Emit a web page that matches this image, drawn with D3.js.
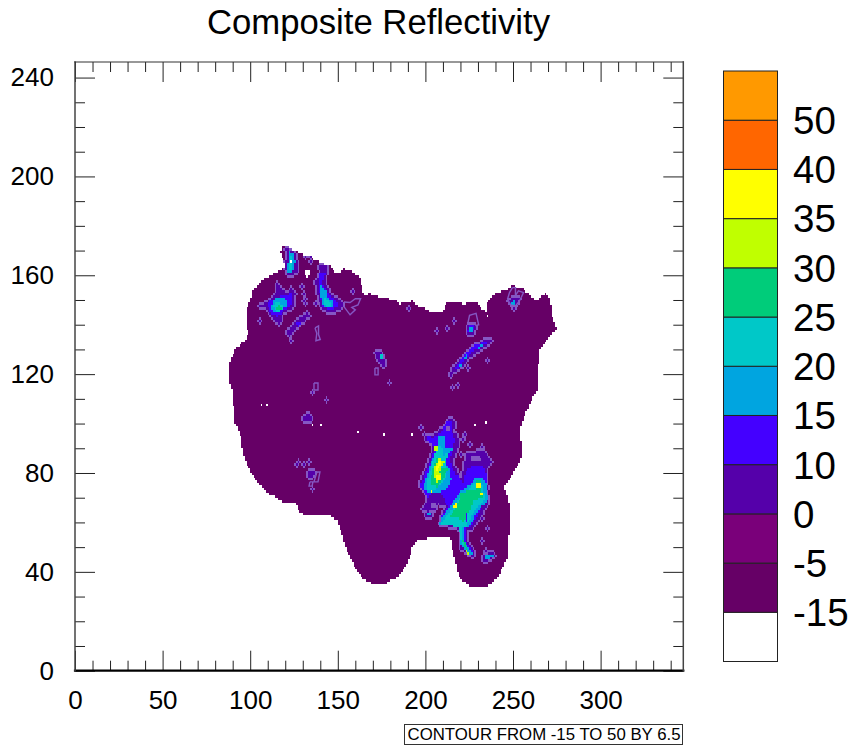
<!DOCTYPE html>
<html>
<head>
<meta charset="utf-8">
<script src="https://cdn.jsdelivr.net/npm/d3@7"></script>
<style>
  html, body { margin: 0; padding: 0; background: #fff; }
  svg { display: block; }
  text { font-family: "Liberation Sans", sans-serif; fill: #000; }
</style>
</head>
<body>
<svg id="chart" width="852" height="746"></svg>
<script>
// legend, bottom to top
const legendColors = ["#ffffff", "#660066", "#7a007a", "#5500aa", "#4400ff", "#00a5e0",
                      "#00c8c8", "#00cc7a", "#c0ff00", "#ffff00", "#ff6600", "#ff9900"];
const legendLabels = ["-15", "-5", "0", "10", "15", "20", "25", "30", "35", "40", "50"];

const xMajor = [0, 50, 100, 150, 200, 250, 300];
const yMajor = [0, 40, 80, 120, 160, 200, 240];

// echo area outline, in grid units
const outline = [[118.7,172.7],[121.6,171.5],[128.4,169],[134.1,167.4],[139.8,165],[145.5,163.8],[148.4,161.4],[152.4,161.4],[153.5,162.6],[158.7,161.4],[162.7,158.9],[165,152],[168.4,152.8],[174.1,151.2],[182.6,150],[185.5,148.4],[192.4,149.6],[195.2,148],[198.1,146.4],[199.2,146.8],[202.6,145.2],[209.5,144.8],[212.3,149.2],[216.9,149.2],[221.5,148.4],[229.5,148.8],[234.6,144.8],[235.7,150],[241.4,153.2],[246.6,154.5],[250,155.7],[255.1,154.9],[258,152.8],[263.7,149.6],[268.3,152.8],[271.1,150],[272.8,141.9],[275.1,137.9],[271.1,135.9],[265.4,129.8],[264.3,122.9],[263.7,113.6],[259.1,107.5],[254,98.2],[255.1,86.5],[251.1,81.2],[244.9,74.3],[247.1,70.3],[248.3,63.8],[248.3,55.7],[246.6,54.9],[247.1,51.7],[247.1,46],[242.6,39.5],[239.7,36.7],[235.7,34.3],[225.5,33.9],[219.7,37.5],[217.9,42],[215.8,47.6],[214,54.5],[210,54.1],[202.6,53.7],[195.2,52.9],[192.4,50],[190.1,43.6],[185.5,38.7],[181,36.7],[176.9,35.1],[171.2,34.7],[163.8,37.5],[158.1,44],[154.1,50.9],[150.1,60.2],[145.5,62.6],[138.1,63],[131.3,63],[127.3,65],[125.6,68.3],[119.9,67.9],[110.2,71.9],[104.5,76],[98.7,82.4],[95.9,88.1],[94.2,96.2],[91.3,100.2],[89.6,113.6],[88.5,116.4],[88.5,124.9],[91.3,129.8],[98.2,134.6],[99.3,137.9],[98.2,138.7],[98.2,146],[101.6,154.1],[107.3,158.1],[115.3,161.4],[119.9,163.4],[118.7,167.1],[117,169.4]];

// missing cells inside the outline
const holes = [[131.5,161.5],[132.5,161.5],[133.5,161.5],[131.5,160.5],[132.5,160.5],[133.5,160.5],[132.5,159.5],[106.2,107.9],[109,107.1],[135.3,99.8],[140.4,99],[161,96.2],[176.4,95],[192.9,95],[228.9,99],[234,100.2],[235.2,143.1],[123.9,165.8]];

const band0 = [
  [[120.4,171.1],[125.6,169.4],[126.7,165.4],[126.7,161.4],[121.6,159.3],[119.9,163.4],[121,167.4]],
  [[103.9,147.2],[109.6,149.2],[114.2,152],[115.3,157.3],[118.2,154.1],[121.6,152.9],[123.9,155.3],[125.6,152.9],[125,146.8],[118.7,144.8],[117,139.9],[114.2,141.1],[110.2,144.8],[108.4,146.8]],
  [[138.7,163.4],[143.8,164.2],[144.4,161.4],[142.7,158.9],[143.8,155.3],[146.7,152],[153,149.2],[152.4,146.8],[148.4,145.2],[144.4,145.2],[141,146],[138.7,151.2],[137,157.3],[139.8,160.9]],
  [[120.4,136.7],[125.6,141.1],[133,144.8],[133.6,143.5],[129.6,140.7],[125.6,137.9],[122.1,135]],
  [[247.1,149.6],[250,151.2],[254,150.4],[252.3,147.6],[248.3,148]],
  [[224,139.9],[229,139.9],[228,136],[224,136.5]],
  [[214,119.7],[215.2,122.5],[219.7,125.7],[226.6,130.6],[234,133.8],[235.2,134.6],[238.6,133],[232.9,130.6],[225.5,127],[220.9,122.9],[215.8,120.5],[214.6,118.9]],
  [[171.2,128.6],[175.2,128.6],[176.9,124.9],[176.4,122.5],[174.1,124.5],[172.4,126.5]],
  [[129.6,102.7],[133,104],[135.3,102.7],[135.3,101],[129.6,101]],
  [[133,80.4],[135.3,81.6],[137.6,80],[135.3,78],[133,78.4]],
  [[233,46.5],[238,48],[240.5,47],[236,44.5],[233,44.5]],
  [[200.5,64.5],[204.5,64.5],[204,62],[200.5,62]],
  // main storm
  [[213.9,102.7],[216.7,101.3],[216.4,96.6],[219.6,93.2],[217.7,88.5],[215.8,84.5],[218.6,79.7],[220.5,72.3],[220.5,77.7],[223.4,87.8],[229.1,88.5],[232.9,89.2],[237.7,84.5],[234.8,81.8],[235.8,72.3],[232.9,75.2],[236.7,69.1],[232.9,63.7],[227.2,57.6],[224.3,56.9],[224.3,52.2],[229.1,46.8],[226.2,46.1],[220.5,49.5],[219.6,56.3],[217.7,58.3],[208.2,58.7],[209.1,63],[212,66.4],[207.2,67.7],[205.3,65],[201.5,64.4],[197.7,65],[200.6,68.4],[201.5,71.8],[196.8,74.5],[197.7,77.7],[200.6,82.4],[203.4,87.2],[204.4,91.2],[200.6,93.2],[198.7,95.9],[203.4,94.6],[209.1,98],[212,100.7]]
];
const band10 = [
  [[109.6,148.8],[115.3,151.2],[119.9,152],[123.9,153.2],[124.4,148],[119.9,146],[115.9,143.1],[111.3,144.8]],
  [[139.3,161.4],[142.7,160.9],[141,157.3],[141.6,155.3],[144.4,152.9],[148.4,150],[150.7,148],[147.3,146],[141.6,146.8],[139.8,152],[138.7,156.9]],
  [[125.6,140.7],[129.6,141.5],[127.3,139.1]],
  [[225.5,139.9],[228.3,139.9],[227.2,136.7],[224.3,137.1]],
  [[217,123],[222,127.5],[228,131.5],[234,133.2],[235,132.5],[228,129.5],[222,125.5],[218,122]],
  [[212,100.7],[214.8,100.9],[215.4,96.6],[217.1,93.2],[214.8,88.5],[213.9,84.5],[217.7,79.1],[221.5,76.4],[224.3,82.4],[232.9,83.1],[234.8,79.1],[234.8,72.3],[234.8,70.4],[230,63],[226.2,58.3],[223,57.6],[223.4,52.2],[227.8,47.5],[224.3,48.2],[220.5,51.5],[219.6,56.9],[216.7,58.7],[208.7,59],[209.5,63],[212.9,66.4],[209.1,71.8],[205.3,72.5],[201.5,70.4],[196.8,74.4],[198.7,77.7],[201.5,82.4],[204.4,87.2],[205.3,90.5],[201.5,93.2],[200.6,95.3],[204.4,93.9],[209.1,96.6]]
];
const band15 = [
  [[121.6,170.3],[125,168.6],[125.6,165],[123.9,160.9],[121,161.4],[121.6,165.4],[121.6,168.2]],
  [[114.2,151.2],[119.9,150.8],[121.6,148],[118.7,146],[115.3,144.8],[111.3,146],[113,148.8]],
  [[139.8,158.1],[141,154.9],[143.8,154.1],[144.4,151.2],[147.3,149.2],[147.3,147.2],[142.7,146.8],[141,149.2],[139.8,152.9]],
  [[225.5,139.1],[227.2,139.1],[226.6,136.7],[224.9,137.5]],
  [[229.5,131],[232.9,132.2],[233.5,131],[230,130.2]],
  [[221.5,127],[223.7,127.8],[223.7,126.1],[222,126.1]],
  [[219.2,124.1],[220.9,123.7],[219.7,122.9]],
  [[249,149.4],[251.5,149.6],[251,148.2],[249.3,148.4]],
  [[234,46.5],[238,47.5],[239.5,46.8],[236,45],[234,45]],
  [[201.5,63.8],[203.5,63.8],[203.5,63],[201.5,63]],
  [[207.2,94.6],[210.6,95.3],[211,90.5],[215.8,89.6],[212.9,87.2],[212,83.8],[213.9,81.1],[214.8,77],[212,73.7],[209.1,72.5],[206.3,71.8],[202.5,71.8],[198.1,73.7],[200.6,78.4],[203.4,84.5],[206.3,89.2]],
  [[228.2,77.7],[232,78.4],[234.8,75.7],[235.8,69.1],[231,65.7],[227.2,61],[224.3,58.3],[221.5,57.6],[222.4,52.2],[227.2,47.5],[224.3,47.5],[220.5,50.9],[219.6,57.6],[215.8,58.9],[208.2,59],[210.1,63],[214.8,67],[217.7,69.8],[220.5,72.5],[224.3,74.5]]
];
const band20 = [
  [[122.7,168.2],[124.4,167],[124.4,163.4],[122.7,161.4],[121.6,162.6],[122.7,165]],
  [[115.3,149.2],[118.7,148],[118.7,146],[115.3,145.2],[113,147.2]],
  [[141.6,150.8],[144.4,150],[146.7,147.2],[142.7,147.2]],
  [[174.1,127.8],[176.4,127.8],[176.4,125.7],[174.1,125.7]],
  [[206.3,90.5],[209.1,91.2],[210.1,87.2],[213.9,88.5],[212,85.1],[212,79],[209.1,75.7],[205.3,73],[200.6,73],[201.5,78.4],[204.4,84.5]],
  [[228.2,76.4],[232,77],[232.9,73],[234.8,69.8],[230,66.4],[226.2,62.3],[223.4,58.3],[220.5,58.3],[221.5,52.9],[225.3,48.2],[221.5,50.9],[218.6,58.3],[209.1,59.2],[212,62.3],[215.8,65.7],[219.6,69.8],[224.3,73.1]]
];
const band25 = [
  [[115.9,147.6],[118.7,147.2],[117,145.6],[115.3,146.4]],
  [[206.3,85.8],[209.5,84.5],[209.1,81.8],[213,81.5],[210.1,77.7],[206.3,74.3],[202.5,75.7],[204.4,81.8]],
  [[220.5,71.8],[225.3,73.1],[232,73.1],[232.9,70.4],[227.2,68.4],[225.3,64.4],[221.5,60.3],[218.6,61.7],[212.9,61.7],[216.7,65.7],[219.6,69]],
  [[229.1,77],[232,76.4],[232,73],[229,73]],
  [[220.8,53],[222.4,52],[224,48.5],[222.5,50]]
];
const band30 = [
  [[204.4,81.1],[208.2,86.5],[210.6,84.5],[208.2,80.4],[209.5,77.7],[206.3,76.1],[205,79]],
  [[205.5,91.5],[207,91.5],[207,89.5],[205.5,89.5]],
  [[222.5,49],[225.3,48],[224.5,47]]
];
const band35 = [
  [[205.3,81.8],[208.2,85.8],[209.5,84.5],[206.8,81.1]],
  [[206.3,79],[208.7,79.3],[208.7,77],[206.3,76.6]],
  [[229.1,76.4],[231.6,76.4],[231.6,74.3],[229.1,74.3]],
  [[229.7,71.1],[232.9,72.2],[232,70.4]],
  [[216.4,67.1],[218.3,68.4],[217.7,65.7],[216.2,66]],
  [[202.5,73.1],[204.4,73.8],[203.4,71.8]]
];
// pockets of weak echo and blue streaks cut back into the storm
const weakPockets = [
  [[226,87],[231,87],[232,85],[226,84.5]],
  [[203,68],[206,68],[206,66],[203,66]],
  [[212.5,98.5],[214,99],[214,97],[212.5,97]]
];
const streak10 = [[222.9,64.5],[224.1,64.5],[224.1,60.5],[222.9,60.5]];

// thin contour lines that enclose no filled band
const traces = [
  [[153.5,149.2],[157,149],[160,150.5],[163,150.5],[161.5,148],[158,147],[160,146],[157,144],[153.5,147.3]],
  [[137,138.7],[139,139.5],[139,136],[140,134],[137.5,133.5],[138,136.5],[137,138.7]],
  [[249.7,155],[251.4,155],[251.4,151.8],[253.1,153.7],[256,153],[253.7,149.6],[251.4,147.6],[248.6,148],[246.9,150.4],[248,153],[249.7,155]],
  [[224,139.9],[225.2,143.8],[228.9,144.6],[230.4,140],[228.5,139.6]],
  [[171.2,122.5],[173,122.5],[173,119.7],[171.2,119.7],[171.2,122.5]],
  [[136.4,116.4],[138.7,116.4],[138.7,113.6],[136.4,113.6],[136.4,116.4]],
  [[138.1,80.4],[139.8,80.4],[138.7,76.4],[136.4,76.4],[138.1,80.4]],
  [[134.1,76.4],[135.8,76.4],[135.3,74.7],[133.6,74.7],[134.1,76.4]]
];
// single-cell echoes
const specks = [[105,141],[129,155.3],[130.1,152.9],[131.3,150.8],[130.1,149.2],[131.3,148],[137,148],[158.1,153.3],[131.8,167],[134.1,167],[134.1,165],[123.3,133],[190,146.4],[216.9,141.1],[206.6,137],[212.9,138.3],[235.2,125.3],[224.9,122],[215.8,114.4],[218.6,115.2],[250,146.4],[135.8,112],[143.8,109.1],[179.2,116],[126.1,83.2],[127.9,84],[130.7,83.6],[133,84.9],[135.8,73.1],[197.7,98.2],[222,95.9],[220.5,87.2],[225.3,91.2],[232,90.8],[217.7,95.9],[221.5,93.2],[232,61],[235.8,57],[232,52.9],[234.8,48.2]];

const bandList = [[outline], band0, band10, band15, band20, band25, band30, band35];

const svg = d3.select("#chart");
const x = d3.scaleLinear().domain([0, 347.2]).range([75, 683.3]);
const y = d3.scaleLinear().domain([0, 246.3]).range([670.7, 62]);

// rasterise the bands on the 1-unit grid, highest band wins
const cols = 347, rows = 246;
let field = d3.range(rows).map(() => new Array(cols).fill(-1));
function paint(poly, level) {
  const [x0, x1] = d3.extent(poly, d => d[0]);
  const [y0, y1] = d3.extent(poly, d => d[1]);
  for (let j = Math.floor(y0); j <= y1; j++) {
    for (let i = Math.floor(x0); i <= x1; i++) {
      if (d3.polygonContains(poly, [i + 0.5, j + 0.5])) field[j][i] = level;
    }
  }
}
bandList.forEach((polys, level) => polys.forEach(poly => paint(poly, level)));
weakPockets.forEach(poly => paint(poly, 0));
paint(streak10, 2);

const setCell = (p, v) => { field[Math.floor(p[1])][Math.floor(p[0])] = v; };
specks.forEach(p => setCell(p, 1));
holes.forEach(p => setCell(p, -1));

// contour edge: base cells that touch a stronger band
const edge = field.map(r => r.slice());
for (let j = 1; j < rows - 1; j++) {
  for (let i = 1; i < cols - 1; i++) {
    if (field[j][i] !== 0) continue;
    let near = false;
    for (const [a, b] of [[1,0],[-1,0],[0,1],[0,-1]]) if (field[j + a][i + b] > 0) near = true;
    if (near) edge[j][i] = 99;
  }
}

// merge the cells of a row into runs so that there are fewer rects
const runs = [];
edge.forEach((row, j) => {
  let start = 0;
  for (let i = 1; i <= cols; i++) {
    if (i === cols || row[i] !== row[start]) {
      if (row[start] >= 0) runs.push({i: start, j: j, n: i - start, v: row[start]});
      start = i;
    }
  }
});
const cellColor = v => v === 99 ? "#8557c4" : legendColors[v === 0 ? 1 : v + 2];

svg.append("g").selectAll("rect")
  .data(runs).enter()
  .append("rect")
    .attr("x", d => x(d.i))
    .attr("y", d => y(d.j + 1))
    .attr("width", d => x(d.i + d.n) - x(d.i))
    .attr("height", d => y(d.j) - y(d.j + 1))
    .attr("fill", d => cellColor(d.v))
    .attr("shape-rendering", "crispEdges");

const lineGen = d3.line().x(d => x(d[0])).y(d => y(d[1]));
svg.append("g").selectAll("path")
  .data(traces).enter()
  .append("path")
    .attr("d", lineGen)
    .attr("fill", "none")
    .attr("stroke", "#8557c4")
    .attr("stroke-width", 1.4);

// frame and ticks on all four sides
const xMinor = d3.range(0, 347, 10).filter(d => d % 50 !== 0);
const yMinor = d3.range(0, 246, 10).filter(d => d % 40 !== 0);

function addAxis(axis, transform, labelled) {
  const g = svg.append("g").attr("transform", transform).call(axis);
  g.select(".domain").remove();
  g.selectAll("line").attr("stroke", "#222").attr("stroke-width", 1);
  if (labelled) g.selectAll("text").style("font-size", "26px");
  else g.selectAll("text").remove();
  g.attr("font-family", null).attr("font-size", null);
}
const atBottom = "translate(0," + y(0) + ")", atTop = "translate(0," + y(246.3) + ")";
const atLeft = "translate(" + x(0) + ",0)", atRight = "translate(" + x(347.2) + ",0)";

addAxis(d3.axisBottom(x).tickValues(xMajor).tickSize(-20).tickPadding(20), atBottom, true);
addAxis(d3.axisBottom(x).tickValues(xMinor).tickSize(-10), atBottom, false);
addAxis(d3.axisTop(x).tickValues(xMajor).tickSize(-20), atTop, false);
addAxis(d3.axisTop(x).tickValues(xMinor).tickSize(-10), atTop, false);
addAxis(d3.axisLeft(y).tickValues(yMajor).tickSize(-20).tickPadding(21), atLeft, true);
addAxis(d3.axisLeft(y).tickValues(yMinor).tickSize(-10), atLeft, false);
addAxis(d3.axisRight(y).tickValues(yMajor).tickSize(-20), atRight, false);
addAxis(d3.axisRight(y).tickValues(yMinor).tickSize(-10), atRight, false);

const frame = [
  {a: [0, 0], b: [347.2, 0], w: 2.2, c: "#000"},
  {a: [0, 0], b: [0, 246.3], w: 1.5, c: "#444"},
  {a: [0, 246.3], b: [347.2, 246.3], w: 1.2, c: "#333"},
  {a: [347.2, 0], b: [347.2, 246.3], w: 1.5, c: "#444"}
];
svg.append("g").selectAll("line")
  .data(frame).enter()
  .append("line")
    .attr("x1", d => x(d.a[0])).attr("y1", d => y(d.a[1]))
    .attr("x2", d => x(d.b[0])).attr("y2", d => y(d.b[1]))
    .attr("stroke", d => d.c)
    .attr("stroke-width", d => d.w)
    .attr("stroke-linecap", "square");

// colour bar
const legendY = d3.scaleLinear().domain([0, legendColors.length]).range([661.5, 71]);
svg.append("g").selectAll("rect")
  .data(legendColors).enter()
  .append("rect")
    .attr("x", 723.5)
    .attr("width", 54)
    .attr("y", (d, i) => legendY(i + 1))
    .attr("height", (d, i) => legendY(i) - legendY(i + 1))
    .attr("fill", d => d)
    .attr("stroke", "#222")
    .attr("stroke-width", 1);

svg.append("g").selectAll("text")
  .data(legendLabels).enter()
  .append("text")
    .text(d => d)
    .attr("x", 793)
    .attr("y", (d, i) => legendY(i + 1))
    .attr("dy", "0.36em")
    .style("font-size", "38.5px");

svg.append("text")
  .text("Composite Reflectivity")
  .attr("x", 378.5)
  .attr("y", 34)
  .style("text-anchor", "middle")
  .style("font-size", "34.7px");

svg.append("rect")
  .attr("x", 404.5).attr("y", 724.5)
  .attr("width", 278).attr("height", 20)
  .attr("fill", "#fff")
  .attr("stroke", "#333");

svg.append("text")
  .text("CONTOUR FROM -15 TO 50 BY 6.5")
  .attr("x", 544)
  .attr("y", 740)
  .style("text-anchor", "middle")
  .style("font-size", "16.8px");
</script>
</body>
</html>
